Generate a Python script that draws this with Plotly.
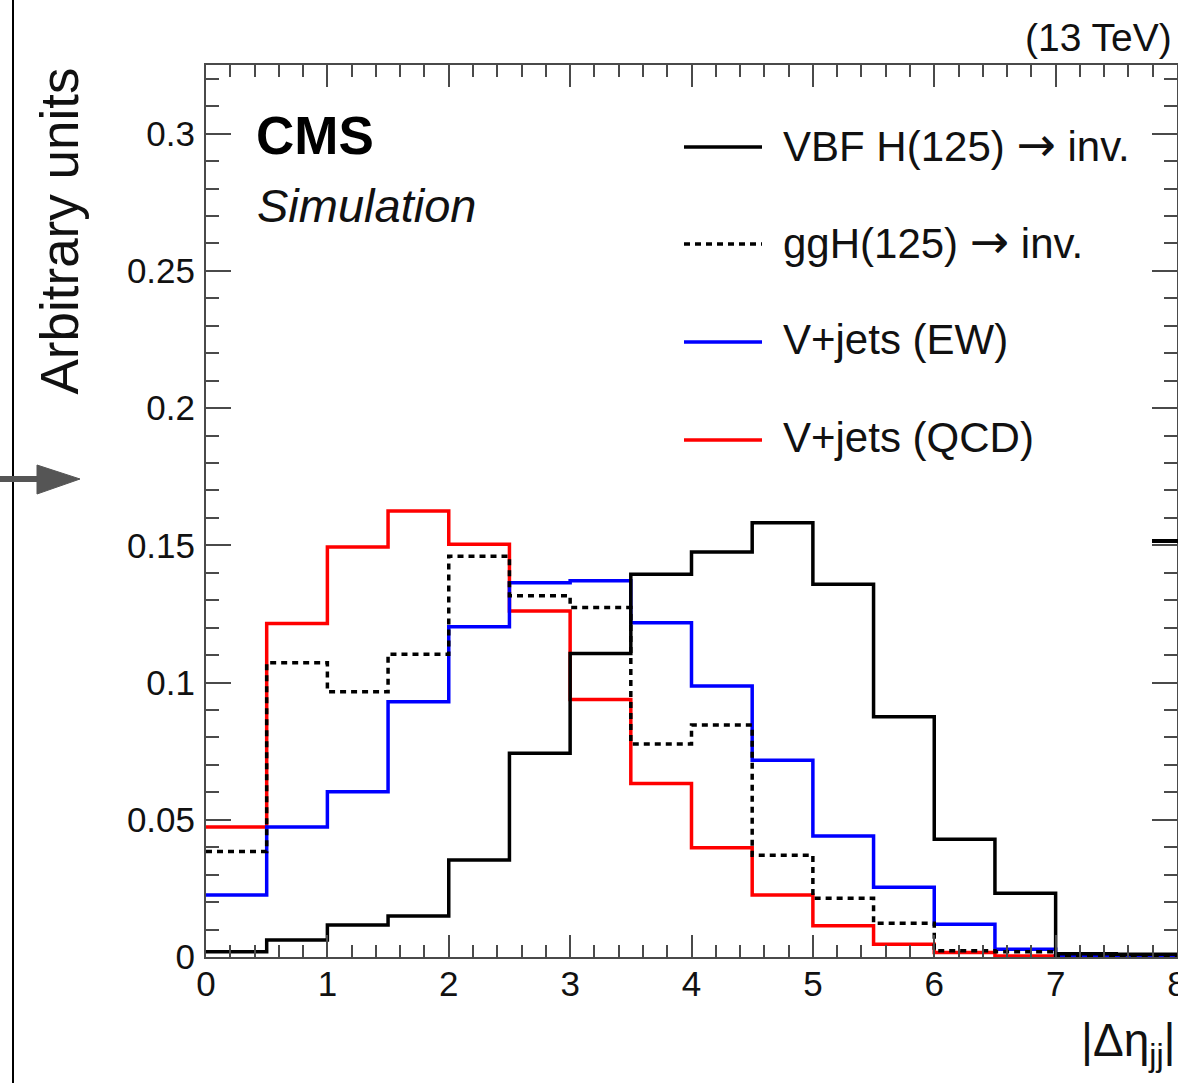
import plotly.graph_objects as go

# ---------------- data ----------------
bin_edges = [0.0, 0.5, 1.0, 1.5, 2.0, 2.5, 3.0, 3.5, 4.0, 4.5, 5.0, 5.5, 6.0, 6.5, 7.0, 7.5, 8.0]
vbf = [0.0019, 0.0062, 0.0117, 0.0149, 0.0353, 0.0742, 0.1106, 0.1395,
       0.1476, 0.1582, 0.1358, 0.0875, 0.0429, 0.0232, 0.0012, 0.0010]
ggh = [0.0384, 0.1072, 0.0966, 0.1103, 0.1460, 0.1316, 0.1273, 0.0776,
       0.0845, 0.0371, 0.0214, 0.0123, 0.0023, 0.0019, 0.0004, 0.0003]
vjets_ew = [0.0226, 0.0474, 0.0602, 0.0930, 0.1203, 0.1364, 0.1371, 0.1218,
            0.0987, 0.0717, 0.0441, 0.0254, 0.0119, 0.0028, 0.0003, 0.0002]
vjets_qcd = [0.0474, 0.1215, 0.1494, 0.1625, 0.1504, 0.1261, 0.0938, 0.0632,
             0.0398, 0.0226, 0.0114, 0.0046, 0.0016, 0.0004, 0.0001, 0.0000]

ARROW = '<span style="font-family:DejaVu Sans;font-size:47px">\u2192</span>'
series_names = ["VBF H(125) " + ARROW + " inv.", "ggH(125) " + ARROW + " inv.",
                "V+jets (EW)", "V+jets (QCD)"]
x_ticks = [0, 1, 2, 3, 4, 5, 6, 7, 8]
y_ticks = [0, 0.05, 0.1, 0.15, 0.2, 0.25, 0.3]
y_tick_labels = ["0", "0.05", "0.1", "0.15", "0.2", "0.25", "0.3"]

# ---------------- geometry helpers (pixel -> paper) ----------------
W, H = 1178, 1083
L, R, T, B = 206, 1, 65, 126
PW = W - L - R
PH = H - T - B


def px(x):
    return (x - L) / PW


def py(y):
    return (H - B - y) / PH


FONT = "Liberation Sans, Arial, Helvetica, sans-serif"
AXC = "#4a4a4a"

fig = go.Figure()

styles = [
    (vjets_qcd, "#ff0000", "solid", "V+jets (QCD)"),
    (vjets_ew, "#0000ff", "solid", "V+jets (EW)"),
    (vbf, "#000000", "solid", "VBF"),
    (ggh, "#000000", "6px,5px", "ggH"),
]
for vals, col, dash, name in styles:
    fig.add_trace(go.Scatter(
        x=bin_edges, y=list(vals) + [vals[-1]], mode="lines",
        line=dict(shape="hv", color=col, width=3.5, dash=dash),
        name=name, showlegend=False, hoverinfo="skip"))

fig.update_layout(
    width=W, height=H,
    margin=dict(l=L, r=R, t=T, b=B, pad=0, autoexpand=False),
    paper_bgcolor="white", plot_bgcolor="white",
    font=dict(family=FONT, color="#111"),
    showlegend=False,
)
fig.update_xaxes(
    range=[0, 8], tickvals=x_ticks, ticks="inside", ticklen=22, tickwidth=2,
    tickcolor=AXC, showline=True, linecolor=AXC, linewidth=2, mirror="ticks",
    showgrid=False, zeroline=False, tickfont=dict(size=35, family=FONT, color="#111"),
    ticklabelstandoff=-5, ticklabeloverflow="allow", automargin=False,
    minor=dict(dtick=0.2, ticks="inside", ticklen=12, tickwidth=2, tickcolor=AXC, showgrid=False),
)
fig.update_yaxes(
    range=[0, 0.325], tickvals=y_ticks, ticktext=y_tick_labels, ticks="inside",
    ticklen=25, tickwidth=2, tickcolor=AXC, showline=True, linecolor=AXC, linewidth=2,
    mirror="ticks", showgrid=False, zeroline=False, automargin=False,
    tickfont=dict(size=35, family=FONT, color="#111"), ticklabelstandoff=2,
    minor=dict(dtick=0.01, ticks="inside", ticklen=13, tickwidth=2, tickcolor=AXC, showgrid=False),
)

ann = []
# CMS / Simulation
ann.append(dict(text="<b>CMS</b>", x=px(254), y=py(136), xanchor="left", yanchor="middle",
                font=dict(size=53, family=FONT, color="black")))
ann.append(dict(text="<i>Simulation</i>", x=px(255), y=py(205), xanchor="left", yanchor="middle",
                font=dict(size=47, family=FONT, color="#111")))
# (13 TeV)
ann.append(dict(text="(13 TeV)", x=px(1174), y=py(38), xanchor="right", yanchor="middle",
                font=dict(size=39, family=FONT, color="#111")))
# axis titles
ann.append(dict(text="Arbitrary units", x=px(59), y=py(66), xanchor="center", yanchor="top",
                textangle=-90, font=dict(size=53, family=FONT, color="#111")))
ann.append(dict(text="|\u0394\u03b7<sub>jj</sub>|", x=px(1178), y=py(1043), xanchor="right",
                yanchor="middle", font=dict(size=46, family=FONT, color="#111")))

# legend
leg_y = [147, 244, 342, 440]
leg_items = [(series_names[0], "#000000", "solid"), (series_names[1], "#000000", "6px,5px"),
             (series_names[2], "#0000ff", "solid"), (series_names[3], "#ff0000", "solid")]
shapes = []
for (name, col, dash), yy in zip(leg_items, leg_y):
    shapes.append(dict(type="line", xref="paper", yref="paper", x0=px(684), x1=px(762),
                       y0=py(yy), y1=py(yy), line=dict(color=col, width=3.5, dash=dash)))
    ann.append(dict(text=name, x=px(781), y=py(yy - 3), xanchor="left", yanchor="middle",
                    font=dict(size=42, family=FONT, color="#111")))

for a in ann:
    a.update(xref="paper", yref="paper", showarrow=False)
fig.update_layout(annotations=ann)

# decorations from the neighbouring panels (crop artefacts)
shapes.append(dict(type="line", xref="paper", yref="paper", x0=px(13), x1=px(13),
                   y0=py(0), y1=py(H), line=dict(color="black", width=2)))
shapes.append(dict(type="line", xref="paper", yref="paper", x0=px(0), x1=px(40),
                   y0=py(479), y1=py(479), line=dict(color="#555", width=6)))
shapes.append(dict(type="path", xref="paper", yref="paper",
                   path=f"M {px(37)} {py(465)} L {px(80)} {py(479)} L {px(37)} {py(494)} Z",
                   fillcolor="#555", line=dict(color="#555", width=1)))
shapes.append(dict(type="line", xref="paper", yref="paper", x0=px(1152), x1=px(1180),
                   y0=py(541), y1=py(541), line=dict(color="black", width=4)))
fig.update_layout(shapes=shapes)

fig.write_html("out.html", config={"displayModeBar": False},
               post_script="document.body.style.margin='0';document.body.style.overflow='hidden';")
